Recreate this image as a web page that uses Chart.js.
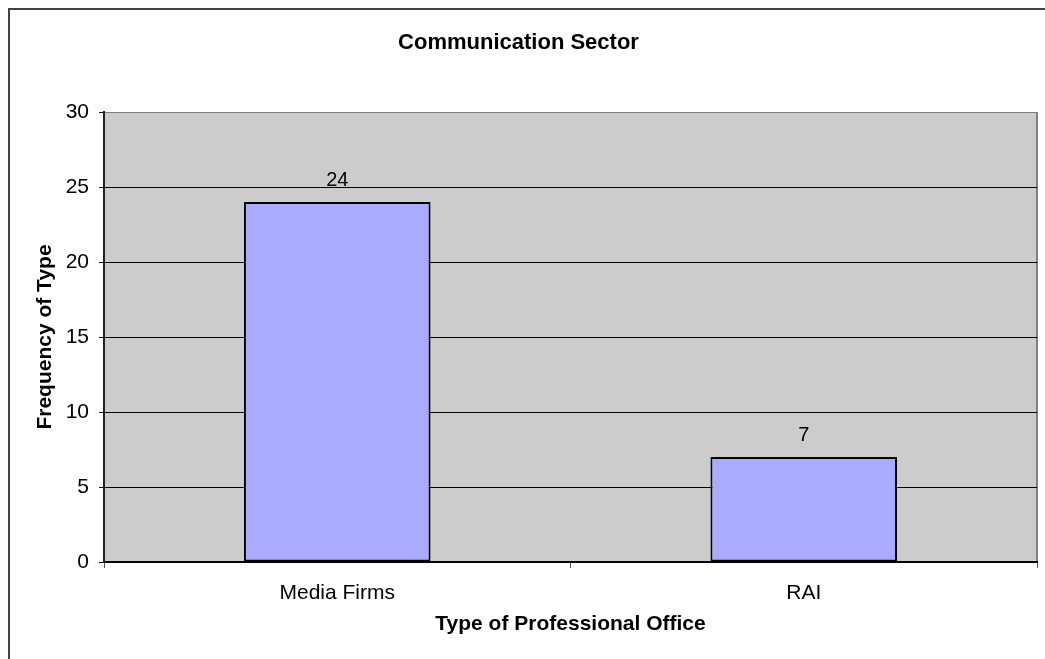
<!DOCTYPE html>
<html>
<head>
<meta charset="utf-8">
<script src="https://cdn.jsdelivr.net/npm/chart.js@4.4.0/dist/chart.umd.min.js"></script>
<style>
  body { margin: 0; background: #fff; }
  canvas { display: block; }
</style>
</head>
<body>
<canvas id="graph" width="1045" height="659"></canvas>
<script>
const categorias = ['Media Firms', 'RAI']
const valores = [24, 7]
const yMin = 0
const yMax = 30
const yPaso = 5

const fuente = "'Liberation Sans', Arial, sans-serif"

// fondo gris del area del grafico, borde gris a la derecha, marco exterior
const fondo = {
  id: 'fondo',
  beforeDraw(chart) {
    const {ctx, chartArea: a} = chart
    ctx.save()
    ctx.fillStyle = '#fff'
    ctx.fillRect(0, 0, chart.width, chart.height)
    ctx.fillStyle = '#CCCCCC'
    ctx.fillRect(a.left, a.top, a.right - a.left, a.bottom - a.top)
    ctx.strokeStyle = '#808080'
    ctx.lineWidth = 2
    ctx.beginPath()
    ctx.moveTo(a.right, a.top)
    ctx.lineTo(a.right, a.bottom)
    ctx.stroke()
    ctx.strokeStyle = '#444'
    ctx.lineWidth = 2
    ctx.strokeRect(9, 9, chart.width + 50, chart.height + 50)
    ctx.restore()
  }
}

// numeros encima de las barras
const etiquetas = {
  id: 'etiquetas',
  afterDatasetsDraw(chart) {
    const {ctx} = chart
    const meta = chart.getDatasetMeta(0)
    ctx.save()
    ctx.fillStyle = '#000'
    ctx.font = '20px ' + fuente
    ctx.textAlign = 'center'
    ctx.textBaseline = 'middle'
    meta.data.forEach(function (bar, i) {
      ctx.fillText(String(valores[i]), bar.x, bar.y - 22)
    })
    ctx.restore()
  }
}

const data = {
  labels: categorias,
  datasets: [{
    label: 'Communication Sector',
    data: valores,
    backgroundColor: '#AAAAFF',
    borderColor: '#000',
    borderWidth: 2,
    borderSkipped: false,
    categoryPercentage: 1,
    barPercentage: 0.4
  }]
}

const config = {
  type: 'bar',
  data: data,
  options: {
    responsive: false,
    animation: false,
    layout: { padding: { left: 0, right: 8, top: 0, bottom: 0 } },
    plugins: {
      legend: { display: false },
      tooltip: { enabled: false },
      title: {
        display: true,
        text: 'Communication Sector',
        color: '#000',
        font: { family: fuente, size: 22, weight: 'bold', lineHeight: 1.2 },
        padding: { top: 30, bottom: 55.6 }
      }
    },
    scales: {
      x: {
        afterFit(scale) { scale.height = 97 },
        grid: {
          drawOnChartArea: false,
          tickLength: 6,
          tickColor: '#555',
          lineWidth: 1
        },
        border: { color: '#000', width: 2 },
        ticks: {
          color: '#000',
          padding: 13,
          font: { family: fuente, size: 21 }
        },
        title: {
          display: true,
          text: 'Type of Professional Office',
          color: '#000',
          font: { family: fuente, size: 21, weight: 'bold', lineHeight: 1.2 },
          padding: { top: 0, bottom: 22 }
        }
      },
      y: {
        min: yMin,
        max: yMax,
        afterFit(scale) { scale.width = 104 },
        grid: {
          color: function (c) { return c.tick && c.tick.value === yMax ? '#808080' : '#000' },
          tickColor: '#000',
          tickLength: 5,
          lineWidth: 1
        },
        border: { color: '#222', width: 2 },
        ticks: {
          stepSize: yPaso,
          color: '#000',
          padding: 10,
          font: { family: fuente, size: 21 }
        },
        title: {
          display: true,
          text: 'Frequency of Type',
          color: '#000',
          font: { family: fuente, size: 21, weight: 'bold', lineHeight: 1.2 },
          padding: { top: 33, bottom: 0 }
        }
      }
    }
  },
  plugins: [fondo, etiquetas]
}

const myChart = new Chart(document.getElementById('graph'), config)
</script>
</body>
</html>
